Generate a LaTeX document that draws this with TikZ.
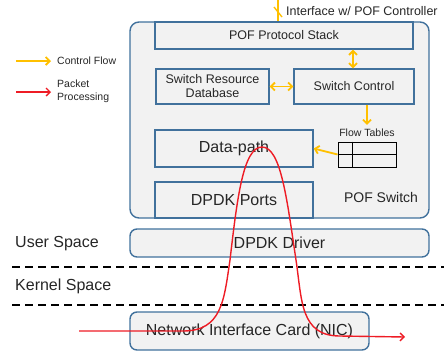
\documentclass[tikz,border=0pt]{standalone}
\usepackage{fontspec}
\setmainfont{Liberation Sans}
\usetikzlibrary{arrows.meta}
\definecolor{boxline}{HTML}{41719C}
\definecolor{boxfill}{HTML}{F2F2F2}
\definecolor{ink}{HTML}{262626}
\definecolor{ctrlflow}{HTML}{FFC000}
\definecolor{pktflow}{HTML}{EE1C25}
\begin{document}
\begin{tikzpicture}[x=1pt,y=-1pt,
  every node/.style={text=ink, inner sep=0pt},
  blk/.style={draw=boxline, fill=boxfill, line width=1.4pt},
  rblk/.style={blk, rounded corners=7pt},
  small/.style={font=\fontsize{12.5}{14}\selectfont},
  big/.style={font=\fontsize{16}{18}\selectfont},
  tiny/.style={font=\fontsize{10.5}{12.5}\selectfont},
  ctrlarrow/.style={draw=ctrlflow, line width=1.8pt, -{Straight Barb[length=4pt,width=8pt]}},
  ctrlboth/.style={ctrlarrow, {Straight Barb[length=4pt,width=8pt]}-{Straight Barb[length=4pt,width=8pt]}},
  pktarrow/.style={draw=pktflow, line width=1.4pt, -{Straight Barb[length=4pt,width=8pt]}},
  layerline/.style={draw=black, line width=1.5pt, dash pattern=on 8pt off 5pt}]
\useasboundingbox (0,0) rectangle (444,354);

% POF switch container
\node[rblk, rounded corners=9pt, minimum width=299pt, minimum height=196pt] (sw) at (279.5,120) {};
\node[anchor=center, font=\fontsize{14}{16}\selectfont] (swlabel) at (381,197) {POF Switch};

% inner blocks of the switch
\node[blk, small, minimum width=258pt, minimum height=27pt] (stack) at (284,35.5) {POF Protocol Stack};
\node[blk, small, minimum width=113pt, minimum height=35pt, align=center] (db) at (212.5,86.5) {Switch Resource\\Database};
\node[blk, small, minimum width=120pt, minimum height=35pt] (ctrl) at (354,86.5) {Switch Control};
\node[blk, big, minimum width=158pt, minimum height=37pt] (dp) at (234,148.5) {Data-path};
\node[blk, big, minimum width=158pt, minimum height=36pt] (ports) at (234,200) {DPDK Ports};

% flow tables
\node[tiny] (ft) at (367,133) {Flow Tables};
\node[draw=black, line width=0.9pt, minimum width=58pt, minimum height=25pt] (tbl) at (367,154.5) {};
\draw[black, line width=0.9pt] (tbl.west) -- (tbl.east);
\draw[black, line width=0.9pt] ([xshift=15pt]tbl.north west) -- ([xshift=15pt]tbl.south west);

% driver and NIC
\node[rblk, big, minimum width=299pt, minimum height=28pt] (drv) at (279.5,243) {DPDK Driver};
\node[rblk, big, minimum width=239pt, minimum height=38pt] (nic) at (249.5,331) {Network Interface Card (NIC)};

% user / kernel boundary
\coordinate (d1a) at (12,267); \coordinate (d1b) at (444,267);
\coordinate (d2a) at (12,305); \coordinate (d2b) at (444,305);
\draw[layerline] (d1a) -- (d1b);
\draw[layerline] (d2a) -- (d2b);
\node[big, anchor=west] (us) at (15,244) {User Space};
\node[big, anchor=west] (ks) at (15,286) {Kernel Space};

% control flow connectors
\draw[ctrlboth] (ctrl.north -| 353,0) -- (stack.south -| 353,0);
\draw[ctrlboth] (db.east) -- (ctrl.west);
\draw[ctrlarrow] (ctrl.south -| ft.north) -- ([yshift=4pt]ft.north);
\draw[ctrlarrow] (tbl.west) -- (dp.east);

% interface to the controller
\coordinate (ifc) at (278,0);
\draw[draw=ctrlflow, line width=1.8pt] (ifc) -- (ifc |- sw.north);
\draw[draw=ctrlflow, line width=1.4pt] (274,7) -- (282,17);
\node[small, anchor=west] (iflabel) at (286,11) {Interface w/ POF Controller};

% packet path through the stack
\coordinate (pin) at (79,331);
\coordinate (pout) at (405,337);
\draw[pktarrow] (pin) -- (183,331)
  .. controls (222,331) and (224,300) .. (230,260)
  .. controls (237,200) and (243,147) .. (262,147)
  .. controls (281,147) and (287,200) .. (296,260)
  .. controls (302,300) and (300,336) .. (340,336)
  -- (pout);

% legend
\coordinate (l1a) at (16,61); \coordinate (l1b) at (51,61);
\coordinate (l2a) at (16,92); \coordinate (l2b) at (51,92);
\draw[ctrlarrow] (l1a) -- (l1b);
\draw[pktarrow] (l2a) -- (l2b);
\node[tiny, anchor=west] (lg1) at (57,61) {Control Flow};
\node[tiny, anchor=west, align=left] (lg2) at (57,91.5) {Packet\\Processing};
\end{tikzpicture}
\end{document}
